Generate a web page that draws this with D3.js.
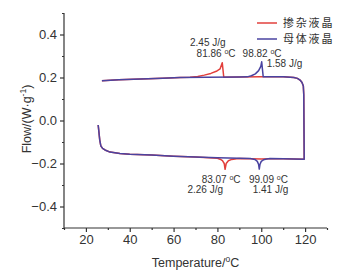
<!DOCTYPE html>
<html>
<head>
<meta charset="utf-8">
<script src="https://cdn.jsdelivr.net/npm/d3@7"></script>
<style>
  body { margin: 0; background: #fff; }
  svg { display: block; font-family: "Liberation Sans", Arial, sans-serif; }
</style>
</head>
<body>
<div id="chart-area"></div>
<script>
// Data: [temperature (°C), heat flow (W/g)]
const hostHeating = [
  [27.3, 0.185], [35, 0.189], [45, 0.193], [55, 0.197], [63, 0.2], [75, 0.201],
  [90, 0.202], [93.6, 0.203], [95.5, 0.208], [97.3, 0.217], [98.8, 0.232],
  [99.8, 0.252], [100.2, 0.273], [100.9, 0.203], [105, 0.204], [110, 0.204],
  [114.9, 0.2], [116.5, 0.196], [117.7, 0.188], [118.6, 0.177], [119.2, 0.16],
  [119.4, 0.12], [119.6, -0.18]
];
const hostCooling = [
  [119.6, -0.18], [110, -0.178], [104, -0.177], [102.5, -0.179], [101, -0.183],
  [100, -0.19], [99.4, -0.205], [99.1, -0.226], [98.8, -0.205], [98.2, -0.19],
  [97.1, -0.181], [95, -0.177], [90, -0.176], [80, -0.173], [70, -0.17],
  [60, -0.166], [50, -0.161], [40, -0.157], [35.5, -0.154], [31, -0.147],
  [28.7, -0.137], [27.6, -0.13], [26.8, -0.118], [26.3, -0.09], [25.6, -0.021]
];
const dopedHeating = [
  [27.3, 0.185], [35, 0.189], [45, 0.193], [55, 0.197], [63, 0.2], [67.5, 0.201],
  [71, 0.205], [74, 0.211], [77, 0.219], [79.5, 0.229], [81.2, 0.24],
  [82.2, 0.269], [82.9, 0.201], [90, 0.202], [100, 0.203], [105, 0.204],
  [110, 0.204], [114.9, 0.2], [116.5, 0.196], [117.7, 0.188], [118.6, 0.177],
  [119.2, 0.16], [119.4, 0.12], [119.6, -0.18]
];
const dopedCooling = [
  [119.6, -0.18], [110, -0.178], [104, -0.178], [100, -0.179], [95, -0.178],
  [90, -0.177], [88.8, -0.178], [86.5, -0.181], [85, -0.187], [84, -0.2],
  [83.5, -0.227], [83.1, -0.2], [82.3, -0.187], [81.2, -0.18], [80, -0.176],
  [70, -0.17], [60, -0.166], [50, -0.161], [40, -0.157], [35.5, -0.154],
  [31, -0.147], [28.7, -0.137], [27.6, -0.13], [26.8, -0.118], [26.3, -0.09],
  [25.6, -0.021]
];

const seriesNames = ['掺杂液晶', '母体液晶'];
const xTicks = [20, 40, 60, 80, 100, 120];
const yTicks = [-0.4, -0.2, 0.0, 0.2, 0.4];

// Peak annotations: value text, anchor (T, flow)
const noteTexts = ['2.45 J/g', '81.86 ', '98.82 ', '1.58 J/g', '83.07 ', '2.26 J/g', '99.09 ', '1.41 J/g'];
const noteUnits = ['', 'C', 'C', '', 'C', '', 'C', ''];
const noteAt = [
  [67.5, 0.346], [70.5, 0.295], [91.5, 0.295], [102.5, 0.248],
  [72.8, -0.291], [66.3, -0.337], [94.4, -0.291], [96.1, -0.337]
];

// Margins
const margin = { left: 64, right: 28, top: 13, bottom: 49 };
const width = 355 - margin.left - margin.right;
const height = 277 - margin.top - margin.bottom;

const svg = d3.select('#chart-area')
  .append('svg')
    .attr('width', 355)
    .attr('height', 277);

svg.append('rect').attr('width', 355).attr('height', 277).attr('fill', '#fff');

const g = svg.append('g')
  .attr('transform', 'translate(' + margin.left + ', ' + margin.top + ')');

// Scales
const x = d3.scaleLinear().domain([10, 130]).range([0, width]);
const y = d3.scaleLinear().domain([-0.5, 0.5]).range([height, 0]);

const axisColor = '#333';

// X axis: major + minor ticks
const xAxisGroup = g.append('g').attr('transform', 'translate(0, ' + height + ')');
xAxisGroup.call(d3.axisBottom(x).tickValues(d3.range(10, 131, 10)).tickSize(2).tickFormat(''));
xAxisGroup.selectAll('.tick').filter(d => xTicks.includes(d)).select('line').attr('y2', 4);
xAxisGroup.selectAll('.tick').filter(d => xTicks.includes(d)).select('text')
  .text(d => d).attr('y', 7).attr('dy', '0.71em');
xAxisGroup.select('.domain').attr('d', 'M0,0H' + width);

// Y axis
const yAxisGroup = g.append('g');
yAxisGroup.call(d3.axisLeft(y).tickValues(d3.range(-5, 6).map(v => v / 10)).tickSize(2).tickFormat(''));
yAxisGroup.selectAll('.tick').filter(d => yTicks.some(t => Math.abs(t - d) < 1e-9)).select('line').attr('x2', -4);
yAxisGroup.selectAll('.tick').filter(d => yTicks.some(t => Math.abs(t - d) < 1e-9)).select('text')
  .text(d => d3.format('.1f')(d)).attr('x', -7);
yAxisGroup.select('.domain').attr('d', 'M0,' + height + 'V0');

[xAxisGroup, yAxisGroup].forEach(a => {
  a.selectAll('line, path').attr('stroke', axisColor).attr('stroke-width', 1.2);
  a.selectAll('text').attr('fill', '#333').attr('font-size', '13px')
    .attr('font-family', '"Liberation Sans", Arial, sans-serif');
});

// Lines
const line = d3.line().x(d => x(d[0])).y(d => y(d[1]));
const red = '#e2403c';
const blue = '#4a43a0';

const curves = [
  { data: dopedHeating.concat(dopedCooling.slice(1)), color: red },
  { data: hostHeating.concat(hostCooling.slice(1)), color: blue }
];
g.selectAll('path.curve')
  .data(curves)
  .enter()
  .append('path')
    .attr('class', 'curve')
    .attr('d', d => line(d.data))
    .attr('fill', 'none')
    .attr('stroke', d => d.color)
    .attr('stroke-width', 1.5)
    .attr('stroke-linejoin', 'round');

// Annotations
const notes = g.selectAll('text.note')
  .data(noteTexts)
  .enter()
  .append('text')
    .attr('class', 'note')
    .attr('x', (d, i) => x(noteAt[i][0]))
    .attr('y', (d, i) => y(noteAt[i][1]))
    .attr('font-size', '10px')
    .attr('fill', '#333');
notes.append('tspan').text(d => d);
notes.filter((d, i) => noteUnits[i] !== '')
  .append('tspan').attr('font-size', '7px').attr('dy', -3.5).text('o');
notes.filter((d, i) => noteUnits[i] !== '')
  .append('tspan').attr('dy', 3.5).text('C');

// Legend
const legend = svg.append('g').attr('transform', 'translate(257, 23)');
const legendColors = [red, blue];
seriesNames.forEach((name, i) => {
  const row = legend.append('g').attr('transform', 'translate(0, ' + (i * 16) + ')');
  row.append('line').attr('x1', 0).attr('x2', 20).attr('y1', 0).attr('y2', 0)
    .attr('stroke', legendColors[i]).attr('stroke-width', 1.5);
  row.append('text').attr('x', 26).attr('y', 0).attr('dy', '0.38em')
    .attr('font-size', '11px').attr('letter-spacing', '1.8px').attr('fill', '#333')
    .attr('font-family', '"Noto Sans CJK SC", sans-serif')
    .text(name);
});

// X Label
const xLabel = g.append('text')
  .attr('x', width / 2)
  .attr('y', height + 39)
  .attr('font-size', '12.5px')
  .attr('fill', '#333')
  .attr('text-anchor', 'middle');
xLabel.append('tspan').text('Temperature/');
xLabel.append('tspan').attr('font-size', '8.5px').attr('dy', -5).text('o');
xLabel.append('tspan').attr('dy', 5).text('C');

// Y Label
const yLabel = svg.append('text')
  .attr('transform', 'translate(31, 119) rotate(-90)')
  .attr('font-size', '12.5px')
  .attr('fill', '#333')
  .attr('text-anchor', 'middle');
yLabel.append('tspan').text('Flow/(W·g');
yLabel.append('tspan').attr('font-size', '8.5px').attr('dy', -5).text('-1');
yLabel.append('tspan').attr('dy', 5).text(')');
</script>
</body>
</html>
